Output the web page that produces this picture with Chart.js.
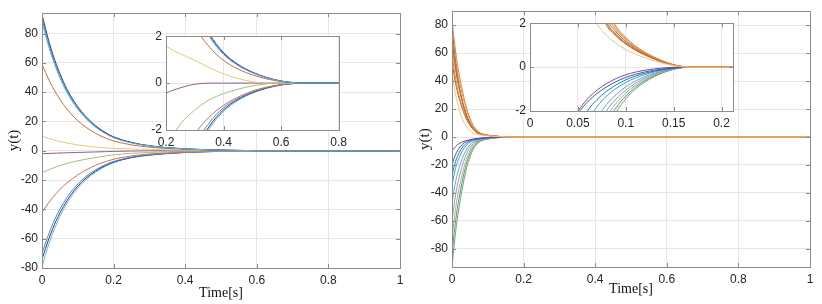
<!DOCTYPE html>
<html>
<head>
<meta charset="utf-8">
<script src="https://cdn.jsdelivr.net/npm/chart.js@4.4.1/dist/chart.umd.min.js"></script>
<style>
    body { margin: 0; background: #fff; width: 822px; height: 304px; position: relative; overflow: hidden; }
    canvas { position: absolute; }
</style>
</head>
<body>
<canvas id="mainLeft" width="411" height="304" style="left:0;top:0"></canvas>
<canvas id="mainRight" width="411" height="304" style="left:411px;top:0"></canvas>
<canvas id="insetLeft" width="216" height="125" style="left:136px;top:25px"></canvas>
<canvas id="insetRight" width="245" height="125" style="left:500px;top:12px"></canvas>
<script>
/* Response curves y(t) */

// left figure
const T_LEFT = [0, 0.02, 0.04, 0.06, 0.08, 0.1, 0.12, 0.15, 0.18, 0.2, 0.25, 0.3, 0.35, 0.4, 0.45, 0.5, 0.55, 0.6, 0.65, 0.7, 1];
const left_lb88 = [88, 70, 55.8, 44.4, 35.4, 28.3, 22.6, 16, 11.3, 8.9, 5.3, 3.25, 2.0, 1.22, 0.75, 0.44, 0.22, 0.08, 0.013, 0, 0];
const left_navy93 = [93, 74, 59, 47, 37.5, 30, 24, 17, 12, 9.5, 5.7, 3.45, 2.12, 1.3, 0.8, 0.47, 0.24, 0.09, 0.015, 0, 0];
const left_blue90 = [90, 71.5, 57, 45.3, 36.2, 29, 23.2, 16.4, 11.6, 9.2, 5.5, 3.35, 2.05, 1.25, 0.77, 0.45, 0.23, 0.085, 0.014, 0, 0];
const left_orange59 = [59, 48, 39, 31.5, 25.5, 20.5, 16.5, 11.8, 8.4, 6.7, 4.0, 2.45, 1.55, 0.97, 0.6, 0.35, 0.18, 0.065, 0.01, 0, 0];
const left_yellow10 = [10, 8.3, 6.9, 5.8, 4.8, 4.0, 3.3, 2.5, 1.9, 1.6, 1.25, 0.97, 0.66, 0.39, 0.2, 0.06, 0, 0, 0, 0, 0];
const left_purple2 = [-2, -1.8, -1.62, -1.46, -1.3, -1.15, -1.0, -0.8, -0.58, -0.43, -0.2, -0.05, 0, 0, 0, 0, 0, 0, 0, 0, 0];
const left_green15 = [-15, -12.8, -11, -9.4, -8, -6.9, -5.9, -4.6, -3.5, -2.8, -1.75, -1.15, -0.72, -0.45, -0.26, -0.12, -0.03, 0, 0, 0, 0];
const left_red42 = [-42, -35, -29, -24, -20, -16.5, -13.5, -9.9, -7.2, -5.8, -3.5, -2.2, -1.45, -0.95, -0.6, -0.34, -0.17, -0.06, -0.01, 0, 0];
const left_blue70 = [-70, -56, -44.6, -35.6, -28.4, -22.7, -18.1, -12.9, -9.2, -7.3, -4.3, -2.7, -1.7, -1.05, -0.65, -0.38, -0.19, -0.07, -0.012, 0, 0];
const left_navy74 = [-74, -59.5, -47.5, -38, -30.3, -24.2, -19.3, -13.8, -9.8, -7.8, -4.6, -2.9, -1.85, -1.14, -0.7, -0.41, -0.21, -0.075, -0.013, 0, 0];
const left_lb79 = [-79, -63, -50.3, -40, -32, -25.5, -20.4, -14.5, -10.3, -8.1, -4.8, -3.05, -1.95, -1.2, -0.74, -0.43, -0.22, -0.08, -0.014, 0, 0];

// right figure
const T_RIGHT = [0, 0.005, 0.01, 0.015, 0.02, 0.03, 0.04, 0.05, 0.06, 0.07, 0.08, 0.09, 0.1, 0.11, 0.12, 0.13, 0.14, 0.15, 0.16, 0.17, 0.2, 1];
const up84 = [84, 72, 61.5, 52.5, 45, 32, 21.5, 13.5, 8.0, 4.6, 2.7, 1.85, 1.35, 0.97, 0.68, 0.45, 0.26, 0.11, 0.022, 0, 0, 0];
const up80 = [80, 66, 54, 44.5, 36.5, 24, 15, 9, 5.2, 3.0, 1.9, 1.4, 1.05, 0.78, 0.56, 0.37, 0.21, 0.09, 0.017, 0, 0, 0];
const up76 = [76, 65, 55.5, 47.5, 40.5, 29, 19.5, 12.4, 7.5, 4.4, 2.6, 1.8, 1.3, 0.94, 0.66, 0.44, 0.25, 0.11, 0.02, 0, 0, 0];
const up71 = [71, 59.5, 50, 42, 35.5, 24.5, 16, 10, 5.9, 3.4, 2.05, 1.5, 1.1, 0.8, 0.57, 0.38, 0.22, 0.095, 0.018, 0, 0, 0];
const up66 = [66, 56, 47.5, 40.5, 34.5, 24.5, 16.5, 10.5, 6.4, 3.9, 2.4, 1.7, 1.25, 0.9, 0.64, 0.42, 0.24, 0.105, 0.02, 0, 0, 0];
const up60 = [60, 50, 42, 35, 29.5, 20.5, 13.5, 8.6, 5.3, 3.2, 2.0, 1.45, 1.06, 0.77, 0.55, 0.36, 0.21, 0.09, 0.017, 0, 0, 0];
const up54 = [54, 45.5, 38.5, 32.5, 27.5, 19.5, 13, 8.5, 5.4, 3.4, 2.2, 1.6, 1.17, 0.85, 0.6, 0.4, 0.23, 0.1, 0.019, 0, 0, 0];
const up47 = [47, 38, 30.5, 24.5, 19.5, 12.2, 7.5, 4.6, 2.8, 1.95, 1.45, 1.08, 0.8, 0.59, 0.42, 0.28, 0.16, 0.07, 0.013, 0, 0, 0];
const low10 = [-10, -8.2, -6.8, -5.6, -4.7, -3.4, -2.6, -2.0, -1.45, -1.05, -0.75, -0.52, -0.35, -0.23, -0.14, -0.08, -0.035, -0.01, 0, 0, 0, 0];
const low20 = [-20, -15.8, -12.5, -9.9, -7.9, -5.0, -3.2, -2.15, -1.6, -1.2, -0.9, -0.66, -0.47, -0.33, -0.22, -0.14, -0.08, -0.035, -0.006, 0, 0, 0];
const low28 = [-28, -22, -17.5, -14, -11.2, -7.1, -4.5, -2.9, -2.0, -1.48, -1.1, -0.81, -0.58, -0.41, -0.28, -0.18, -0.1, -0.045, -0.008, 0, 0, 0];
const low35 = [-35, -28, -22.5, -18.2, -14.8, -9.6, -6.0, -3.8, -2.5, -1.8, -1.32, -0.97, -0.7, -0.5, -0.34, -0.22, -0.12, -0.055, -0.01, 0, 0, 0];
const low48 = [-48, -39, -32, -26.5, -22, -14.5, -9.2, -5.7, -3.5, -2.35, -1.7, -1.25, -0.9, -0.64, -0.43, -0.28, -0.16, -0.07, -0.013, 0, 0, 0];
const low60 = [-60, -50, -41.5, -34.5, -29, -19.5, -12.4, -7.6, -4.6, -2.9, -2.0, -1.45, -1.05, -0.74, -0.5, -0.32, -0.18, -0.078, -0.015, 0, 0, 0];
const low72 = [-72, -61, -51, -43, -36.5, -25, -16, -9.8, -5.8, -3.5, -2.3, -1.65, -1.18, -0.83, -0.56, -0.36, -0.2, -0.085, -0.016, 0, 0, 0];
const low83 = [-83, -71, -60, -51, -43.5, -30, -19.5, -12, -7, -4.2, -2.6, -1.85, -1.32, -0.92, -0.62, -0.4, -0.22, -0.095, -0.018, 0, 0, 0];
const low93 = [-93, -80, -68, -58, -50, -35, -23, -14.5, -8.5, -5.0, -3.0, -2.05, -1.45, -1.0, -0.68, -0.43, -0.24, -0.1, -0.02, 0, 0, 0];

// ticks
const X_TICKS_MAIN = [0, 0.2, 0.4, 0.6, 0.8, 1];
const Y_TICKS_LEFT = [-80, -60, -40, -20, 0, 20, 40, 60, 80];
const Y_TICKS_RIGHT = [-80, -60, -40, -20, 0, 20, 40, 60, 80];
const X_TICKS_INSET_LEFT = [0.2, 0.4, 0.6, 0.8];
const X_TICKS_INSET_RIGHT = [0, 0.05, 0.1, 0.15, 0.2];
const Y_TICKS_INSET = [-2, 0, 2];

// first entry is drawn on top
const leftSeries = [
    [left_lb88, "#63b2e0"], [left_navy93, "#283f7c"], [left_blue90, "#3f7fc0"],
    [left_orange59, "#cf6a3a"], [left_yellow10, "#e6c77a"], [left_purple2, "#8c5f8f"],
    [left_green15, "#9fbf85"], [left_red42, "#d4704a"], [left_blue70, "#4f88c6"],
    [left_navy74, "#2a3f78"], [left_lb79, "#6cb6e2"],
];
const rightSeries = [
    [up47, "#edc48a"], [up84, "#d9893a"], [up80, "#c76a2b"], [up76, "#e0a15a"], [up71, "#b8652a"],
    [up66, "#d47c3c"], [up60, "#c99453"], [up54, "#a85a30"],
    [low10, "#8e3f8f"], [low20, "#2c5fa8"], [low28, "#1f7ab8"], [low35, "#3d9fc0"],
    [low48, "#6a9fd4"], [low60, "#8aa0c8"], [low72, "#c0a878"], [low83, "#4e9a8c"], [low93, "#6aa870"],
];

Chart.defaults.font.family = "'Liberation Sans', Arial, sans-serif";
Chart.defaults.color = "#262626";

/* MATLAB style box with inward ticks */
const boxPlugin = {
    id: "box",
    afterDatasetsDraw(chart) {
        const {ctx, chartArea: a, scales: {x, y}} = chart;
        ctx.save();
        ctx.strokeStyle = "#8c8c8c";
        ctx.lineWidth = 1;
        ctx.beginPath();
        x.ticks.forEach((t) => {
            const px = Math.round(x.getPixelForValue(t.value)) + 0.5;
            ctx.moveTo(px, a.bottom); ctx.lineTo(px, a.bottom - 4);
            ctx.moveTo(px, a.top); ctx.lineTo(px, a.top + 4);
        });
        y.ticks.forEach((t) => {
            const py = Math.round(y.getPixelForValue(t.value)) + 0.5;
            ctx.moveTo(a.left, py); ctx.lineTo(a.left + 4, py);
            ctx.moveTo(a.right, py); ctx.lineTo(a.right - 4, py);
        });
        ctx.stroke();
        ctx.strokeRect(Math.round(a.left) + 0.5, Math.round(a.top) + 0.5,
            Math.round(a.right - a.left), Math.round(a.bottom - a.top));
        ctx.restore();
    }
};

/* white face under the inset axes */
const facePlugin = {
    id: "face",
    beforeDraw(chart) {
        const {ctx, chartArea: a} = chart;
        ctx.save();
        ctx.fillStyle = "#fff";
        ctx.fillRect(a.left, a.top, a.right - a.left, a.bottom - a.top);
        ctx.restore();
    }
};

function makeDatasets(times, series) {
    return series.map(([vals, color]) => ({
        data: times.map((t, i) => ({x: t, y: vals[i]})),
        borderColor: color,
        borderWidth: 1,
        pointRadius: 0,
        fill: false,
        cubicInterpolationMode: "monotone",
    }));
}

function setTicks(list) {
    return (scale) => { scale.ticks = list.map((v) => ({value: v})); };
}

function makeChart(id, cfg) {
    const xTitle = cfg.xTitle ? {
        display: true, text: "Time[s]",
        font: {family: "'Liberation Serif', 'Times New Roman', serif", size: 14},
        color: "#111", padding: {top: 0, bottom: cfg.xTitlePad},
    } : {display: false};
    const yTitle = cfg.yTitle ? {
        display: true, text: "y(t)",
        font: {family: "'Liberation Serif', 'Times New Roman', serif", size: 15},
        color: "#111", padding: {top: 5, bottom: 0},
    } : {display: false};
    return new Chart(document.getElementById(id), {
        type: "line",
        data: {datasets: makeDatasets(cfg.times, cfg.series)},
        options: {
            responsive: false,
            animation: false,
            layout: {padding: cfg.padding},
            plugins: {legend: {display: false}, tooltip: {enabled: false}},
            scales: {
                x: {
                    type: "linear", min: cfg.xRange[0], max: cfg.xRange[1],
                    afterBuildTicks: setTicks(cfg.xTicks),
                    afterFit: (s) => { s.height = cfg.xHeight; },
                    grid: {color: "#e6e6e6", drawTicks: false},
                    border: {display: false},
                    ticks: {padding: 5, maxRotation: 0, font: {size: 12}, callback: (v) => String(v)},
                    title: xTitle,
                },
                y: {
                    type: "linear", min: cfg.yRange[0], max: cfg.yRange[1],
                    afterBuildTicks: setTicks(cfg.yTicks),
                    afterFit: (s) => { s.width = cfg.yWidth; },
                    grid: {color: "#e6e6e6", drawTicks: false},
                    border: {display: false},
                    ticks: {padding: 4, font: {size: 12}, callback: (v) => String(v)},
                    title: yTitle,
                },
            },
        },
        plugins: cfg.inset ? [facePlugin, boxPlugin] : [boxPlugin],
    });
}

makeChart("mainLeft", {
    times: T_LEFT, series: leftSeries,
    xRange: [0, 1], yRange: [-80, 94], xTicks: X_TICKS_MAIN, yTicks: Y_TICKS_LEFT,
    padding: {left: 0, right: 11, top: 13, bottom: 0}, xHeight: 36, yWidth: 42,
    xTitle: true, yTitle: true, xTitlePad: 2,
});
makeChart("mainRight", {
    times: T_RIGHT, series: rightSeries,
    xRange: [0, 1], yRange: [-93, 90], xTicks: X_TICKS_MAIN, yTicks: Y_TICKS_RIGHT,
    padding: {left: 0, right: 12, top: 8, bottom: 0}, xHeight: 37, yWidth: 41,
    xTitle: true, yTitle: true, xTitlePad: 6,
});
makeChart("insetLeft", {
    times: T_LEFT, series: leftSeries, inset: true,
    xRange: [0.2, 0.8], yRange: [-2, 2], xTicks: X_TICKS_INSET_LEFT, yTicks: Y_TICKS_INSET,
    padding: {left: 0, right: 11, top: 10, bottom: 0}, xHeight: 20, yWidth: 30,
});
makeChart("insetRight", {
    times: T_RIGHT, series: rightSeries, inset: true,
    xRange: [0, 0.212], yRange: [-2, 2], xTicks: X_TICKS_INSET_RIGHT, yTicks: Y_TICKS_INSET,
    padding: {left: 0, right: 12, top: 10, bottom: 0}, xHeight: 26, yWidth: 30,
});
</script>
</body>
</html>
